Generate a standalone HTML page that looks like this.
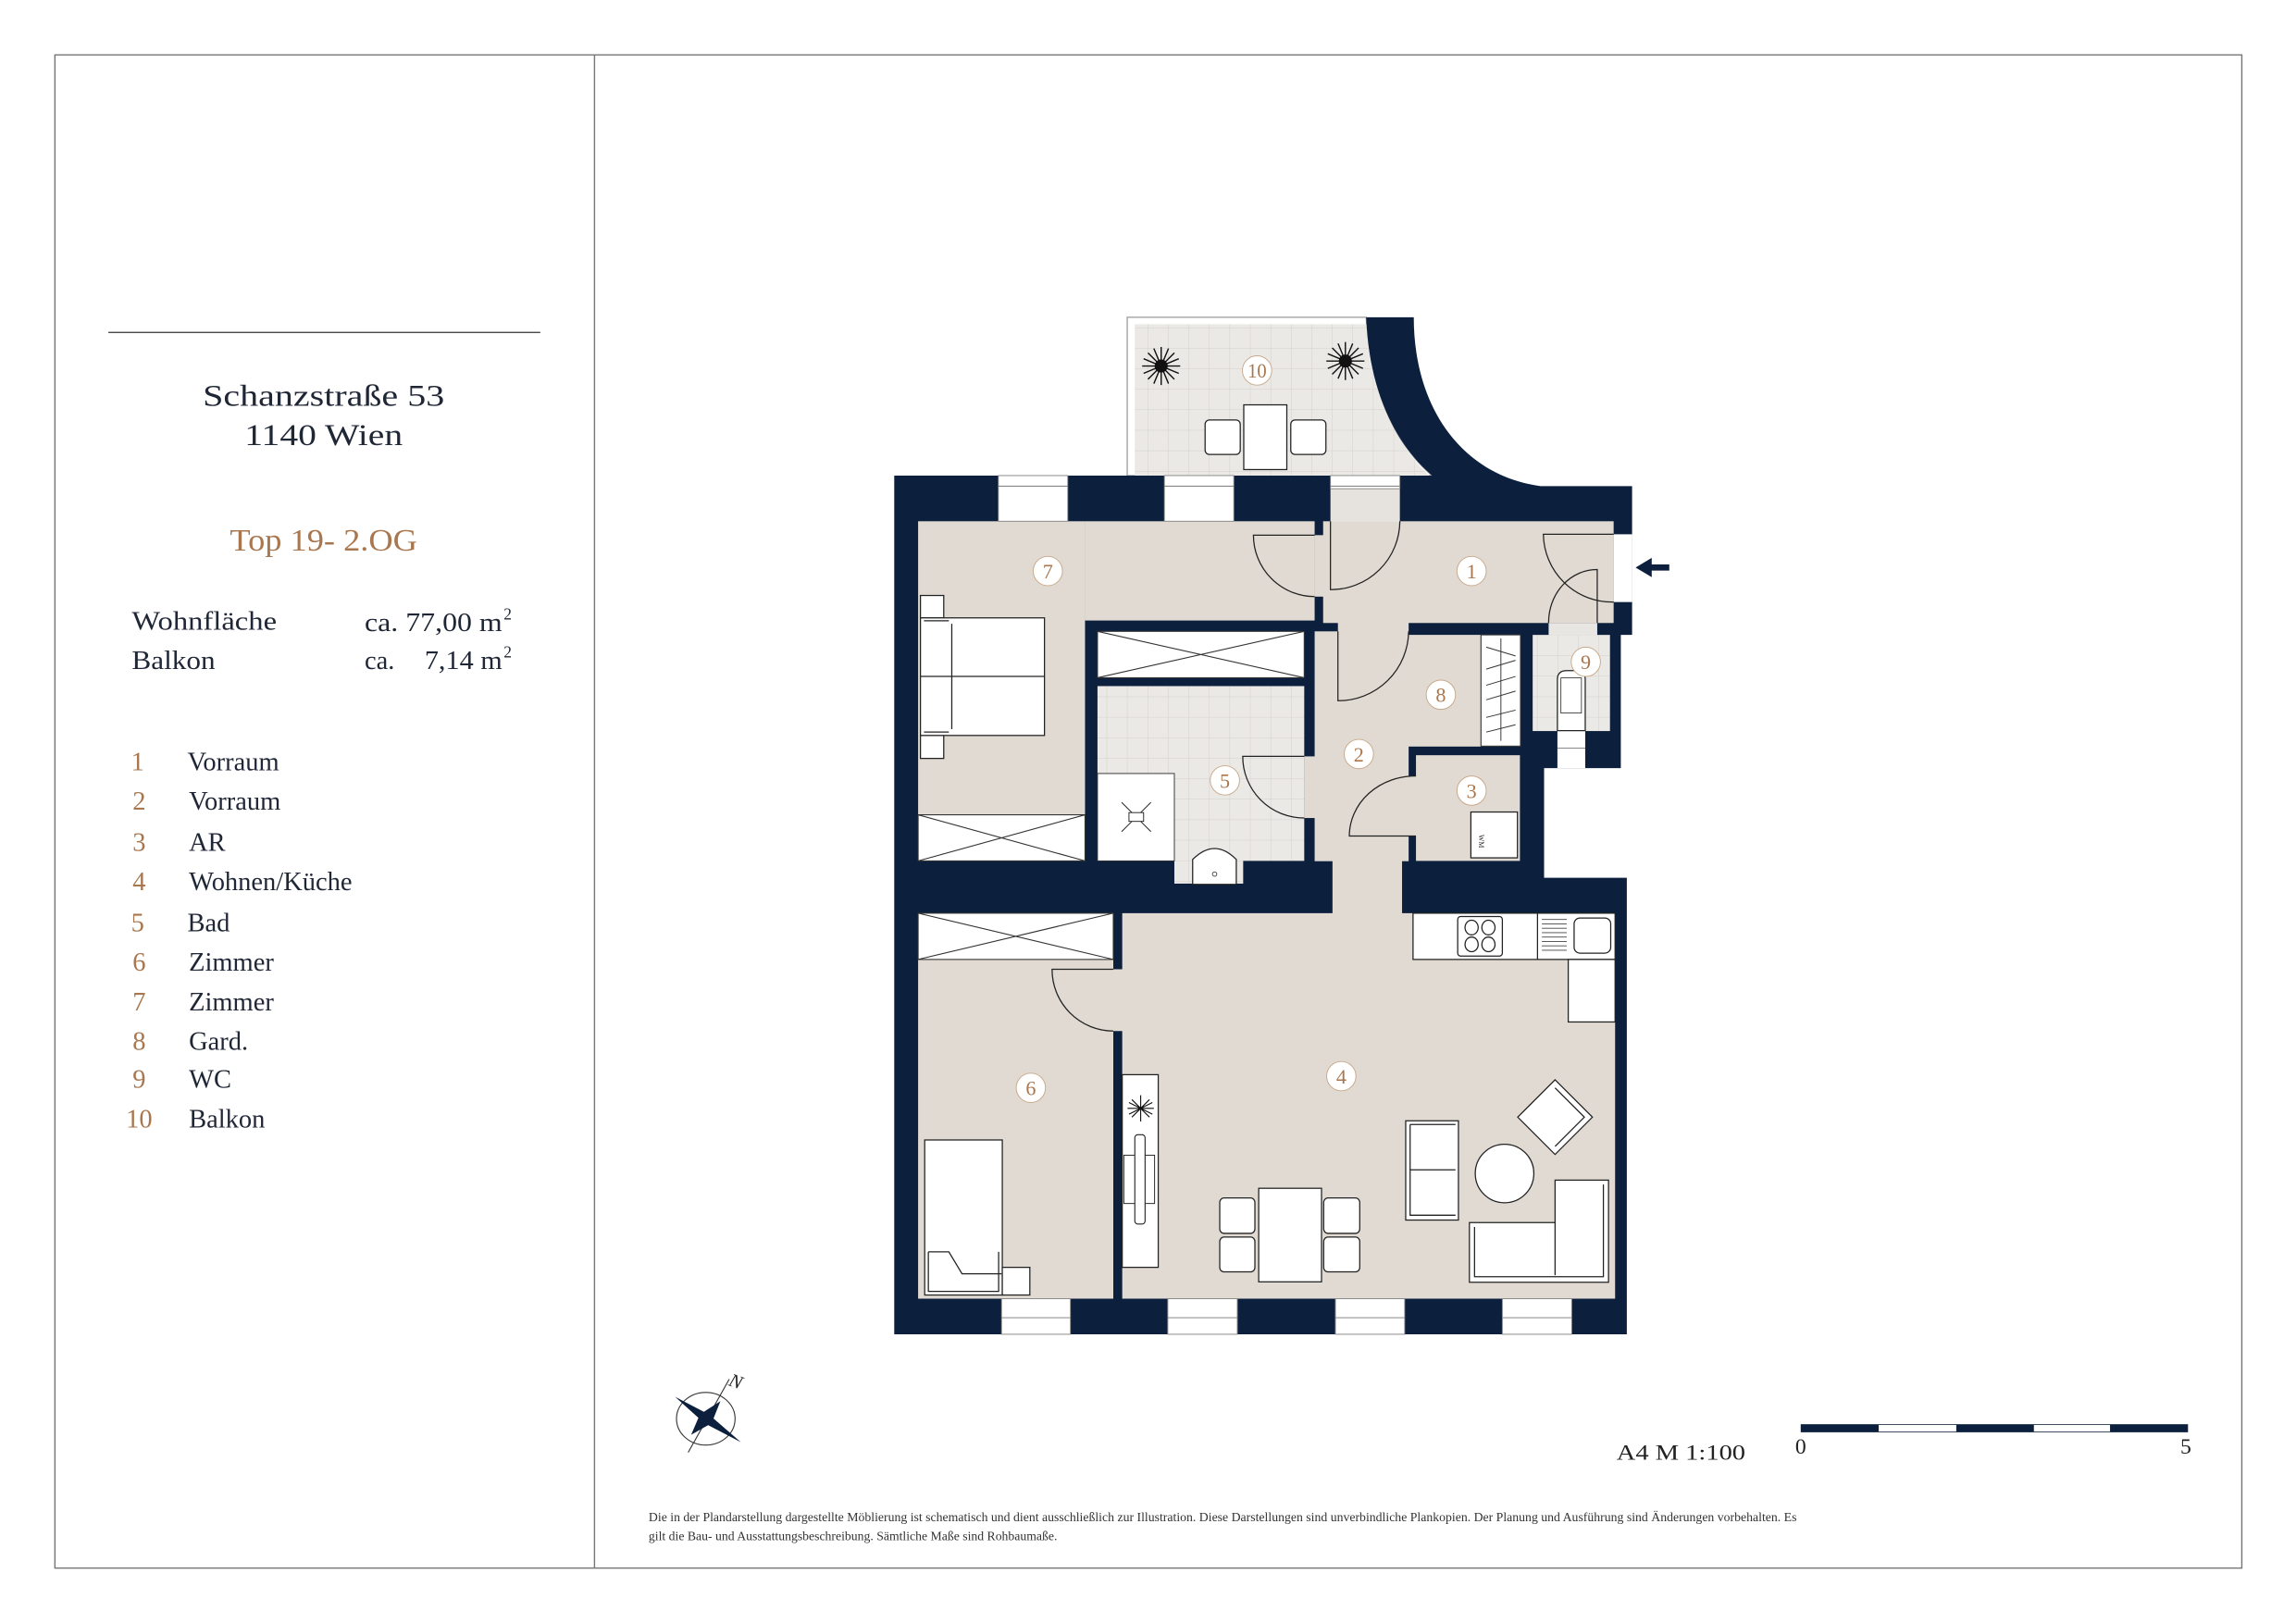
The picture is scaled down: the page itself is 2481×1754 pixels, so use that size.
<!DOCTYPE html>
<html><head><meta charset="utf-8"><style>
html,body{margin:0;padding:0;background:#fff}
svg{display:block}
text{font-family:"Liberation Serif",serif}
</style></head><body>
<svg width="2481" height="1754" viewBox="0 0 1568 1108.5" xmlns="http://www.w3.org/2000/svg">
<defs>
<pattern id="tile" width="14" height="14" patternUnits="userSpaceOnUse">
<rect width="14" height="14" fill="#ebe9e6"/>
<path d="M14 0V14M0 14H14" stroke="#d3d0cc" stroke-width="0.6" fill="none"/>
</pattern>
</defs>
<rect width="1568" height="1108.5" fill="#fff"/>
<rect x="37.5" y="37.5" width="1493.5" height="1033.5" fill="none" stroke="#777" stroke-width="0.9"/>
<line x1="406" y1="37.5" x2="406" y2="1071" stroke="#777" stroke-width="0.9"/>
<line x1="74" y1="227" x2="369" y2="227" stroke="#333" stroke-width="0.8"/>

<g fill="#1f2636" font-size="20.5">
<text x="221" y="277" text-anchor="middle" textLength="165" lengthAdjust="spacingAndGlyphs">Schanzstraße 53</text>
<text x="221" y="304" text-anchor="middle" textLength="108" lengthAdjust="spacingAndGlyphs">1140 Wien</text>
</g>
<text x="221" y="376" text-anchor="middle" font-size="21.5" fill="#a9774f" textLength="128" lengthAdjust="spacingAndGlyphs">Top 19- 2.OG</text>
<g fill="#1f2636" font-size="18">
<text x="90" y="430" textLength="99" lengthAdjust="spacingAndGlyphs">Wohnfläche</text>
<text x="90" y="457" textLength="57" lengthAdjust="spacingAndGlyphs">Balkon</text>
<text x="249" y="431" textLength="94" lengthAdjust="spacingAndGlyphs">ca. 77,00 m</text><text x="344" y="423" font-size="11">2</text>
<text x="249" y="457">ca.</text><text x="290" y="457" textLength="53" lengthAdjust="spacingAndGlyphs">7,14 m</text><text x="344" y="449" font-size="11">2</text>
</g>
<g font-size="18" fill="#a9774f" text-anchor="middle">
<text x="94" y="526">1</text><text x="95" y="553">2</text><text x="95" y="581">3</text><text x="95" y="608">4</text><text x="94" y="636">5</text><text x="95" y="663">6</text><text x="95" y="690">7</text><text x="95" y="717">8</text><text x="95" y="743">9</text><text x="95" y="770">10</text>
</g>
<g font-size="18" fill="#1f2636">
<text x="128" y="526">Vorraum</text><text x="129" y="553">Vorraum</text><text x="129" y="581">AR</text><text x="129" y="608">Wohnen/Küche</text><text x="128" y="636">Bad</text><text x="129" y="663">Zimmer</text><text x="129" y="690">Zimmer</text><text x="129" y="717">Gard.</text><text x="129" y="743">WC</text><text x="129" y="770">Balkon</text>
</g>

<path d="M769.8,216.7H933C935,270 955,305 978,324.8H769.8Z" fill="#fff" stroke="#999" stroke-width="0.8"/>
<path d="M775,221.4H933.5C936,272 956,306 976,324.8H775Z" fill="url(#tile)"/>
<rect x="849.4" y="276.5" width="29.4" height="44.2" fill="#fff" stroke="#222" stroke-width="0.8"/>
<rect x="823" y="286.8" width="24" height="23.6" rx="3" fill="#fff" stroke="#222" stroke-width="0.8"/>
<rect x="881.5" y="286.8" width="24" height="23.6" rx="3" fill="#fff" stroke="#222" stroke-width="0.8"/>
<g stroke="#111" stroke-width="0.9">
<g transform="translate(793,250)"><path d="M-13,0H13M0,-13V13M-9,-9L9,9M-9,9L9,-9M-12,-5L12,5M-12,5L12,-5M-5,-12L5,12M5,-12L-5,12"/><circle r="4" fill="#111"/></g>
<g transform="translate(918.8,246.6)"><path d="M-13,0H13M0,-13V13M-9,-9L9,9M-9,9L9,-9M-12,-5L12,5M-12,5L12,-5M-5,-12L5,12M5,-12L-5,12"/><circle r="4" fill="#111"/></g>
</g>

<path d="M610.7,324.8H978C955,305 935,270 933,216.7H965.5C965.5,280 1000,325 1052,332H1114.6V433.6H1106.9V524.6H1054.5V599.5H1111V911.3H610.7Z" fill="#0c1f3d"/>

<g fill="#e0dad2">
<rect x="627" y="356" width="114" height="232"/>
<rect x="741" y="356" width="156.8" height="67.8"/>
<rect x="897.8" y="365.5" width="6" height="42"/>
<rect x="903.6" y="356" width="198.4" height="69.5"/>
<rect x="897.8" y="431.2" width="64.2" height="157"/>
<rect x="913.7" y="425" width="48.3" height="7"/>
<rect x="890.7" y="516.6" width="7.5" height="42.1"/>
<rect x="910" y="588" width="47.5" height="36"/>
<rect x="961.5" y="433.6" width="77" height="76.3"/>
<rect x="961.5" y="530" width="6" height="41"/>
<rect x="967" y="515.8" width="71" height="72.2"/>
<rect x="627" y="623.7" width="133.3" height="263.3"/>
<rect x="760" y="662" width="7" height="42.2"/>
<rect x="766.4" y="623.7" width="336.6" height="263.3"/>
<rect x="908.6" y="334" width="47.4" height="22.5" fill="#e6e2dd"/>
</g>
<rect x="749.5" y="468.6" width="141.2" height="119.4" fill="url(#tile)"/>
<rect x="802" y="586" width="47" height="17.5" fill="url(#tile)"/>
<rect x="1046.7" y="433.6" width="52.8" height="65.7" fill="url(#tile)"/>
<rect x="1057.6" y="425.5" width="33.2" height="8.5" fill="#e8e6e3"/>
<rect x="1102" y="364.9" width="12.6" height="46.3" fill="#fff"/>
<rect x="1063.6" y="499" width="19" height="25.6" fill="#fff"/>
<line x1="1063.6" y1="511" x2="1082.6" y2="511" stroke="#777" stroke-width="0.6"/>

<g fill="#fff" stroke="#888" stroke-width="0.6">
<rect x="681.8" y="324.8" width="47.4" height="31.2"/><rect x="795.2" y="324.8" width="47.4" height="31.2"/><rect x="908.6" y="324.8" width="47.4" height="9"/>
<rect x="684" y="887" width="47" height="24.3"/><rect x="797.5" y="887" width="47.5" height="24.3"/><rect x="912" y="887" width="47.3" height="24.3"/><rect x="1026" y="887" width="47.4" height="24.3"/>
</g>
<g stroke="#777" stroke-width="0.6">
<path d="M681.8,332H729.2M795.2,332H842.6M908.6,332H956M684,900H731M797.5,900H845M912,900H959.3M1026,900H1073.4"/>
</g>

<g fill="#fff" stroke="#333" stroke-width="0.7">
<rect x="749.5" y="431.2" width="141.2" height="31.7"/><path d="M749.5,431.2L890.7,462.9M749.5,462.9L890.7,431.2"/>
<rect x="627" y="556.5" width="114" height="31.5"/><path d="M627,556.5L741,588M627,588L741,556.5"/>
<rect x="627" y="623.7" width="133.3" height="31.6"/><path d="M627,623.7L760.3,655.3M627,655.3L760.3,623.7"/>
<rect x="1011.4" y="433.6" width="27" height="76"/>
</g>
<g stroke="#333" stroke-width="0.6"><path d="M1025,436V506M1015,442L1035,448M1015,457L1035,451M1015,468L1035,462M1015,478L1035,472M1015,490L1035,485M1015,500L1035,495"/></g>

<rect x="749.5" y="528.3" width="52.5" height="59.7" fill="#fff" stroke="#333" stroke-width="0.6"/>
<path d="M766,548L786,568M786,548L766,568" stroke="#222" stroke-width="0.6"/>
<rect x="771" y="555" width="10" height="6" fill="#fff" stroke="#222" stroke-width="0.6"/>
<path d="M814.5,604V587Q829.5,572 844.3,587V604Z" fill="#fff" stroke="#222" stroke-width="0.8"/>
<circle cx="829.5" cy="597" r="1.5" fill="none" stroke="#222" stroke-width="0.5"/>
<path d="M1063.6,499V464Q1063.6,458 1070,458H1076Q1082.6,458 1082.6,464V499Z" fill="#fff" stroke="#222" stroke-width="0.8"/>
<rect x="1066" y="463" width="14" height="24" fill="none" stroke="#222" stroke-width="0.5"/>
<rect x="1004.5" y="554.6" width="31.8" height="31.3" fill="#fff" stroke="#222" stroke-width="0.8"/>
<text x="1010" y="570" font-size="5" fill="#222" transform="rotate(90 1010 570)">WM</text>

<g fill="#fff" stroke="#222" stroke-width="0.8">
<rect x="628.6" y="406.7" width="15.9" height="15.3"/><rect x="628.6" y="502.3" width="15.9" height="15.7"/>
<rect x="628.6" y="422" width="84.7" height="80.3"/>
<path d="M628.6,462H713.3M650,426V498M631,424H648M631,500H648"/>
</g>
<g fill="#fff" stroke="#222" stroke-width="0.8">
<rect x="965" y="623.7" width="138" height="31.6"/>
<rect x="1071" y="655.3" width="32" height="42.7"/>
<rect x="995.5" y="626" width="30.5" height="27" rx="2"/>
<ellipse cx="1005" cy="633.5" rx="4.5" ry="5"/><ellipse cx="1016.5" cy="633.5" rx="4.5" ry="5"/><ellipse cx="1005" cy="645" rx="4.5" ry="5"/><ellipse cx="1016.5" cy="645" rx="4.5" ry="5"/>
<line x1="1050" y1="623.7" x2="1050" y2="655.3"/>
<rect x="1075" y="627" width="25" height="24" rx="4"/>
</g>
<path d="M1053,628H1070M1053,631H1070M1053,634H1070M1053,637H1070M1053,640H1070M1053,643H1070M1053,646H1070M1053,649H1070" stroke="#444" stroke-width="0.5"/>
<rect x="766.4" y="734" width="24.6" height="131.6" fill="#fff" stroke="#222" stroke-width="0.8"/>
<g transform="translate(779,757)" stroke="#111" stroke-width="0.7"><path d="M-9,0H9M0,-9V9M-6,-6L6,6M-6,6L6,-6M-8,-4L8,4M-8,4L8,-4"/></g>
<rect x="767.5" y="789" width="21" height="33" fill="#fff" stroke="#222" stroke-width="0.6"/>
<rect x="775" y="775" width="7" height="61" rx="2" fill="#fff" stroke="#222" stroke-width="0.7"/>
<g fill="#fff" stroke="#222" stroke-width="0.8">
<rect x="859.6" y="811.6" width="42.9" height="63.9"/>
<rect x="833" y="818.2" width="24" height="24.2" rx="3"/><rect x="833" y="844.9" width="24" height="23.8" rx="3"/>
<rect x="904" y="818.2" width="24.6" height="24.2" rx="3"/><rect x="904" y="844.9" width="24.6" height="23.8" rx="3"/>
<rect x="960" y="765.5" width="36" height="67.8"/>
<path d="M963,768V830H994M963,799H994M963,768H994"/>
<circle cx="1027.5" cy="801.5" r="20"/>
<path d="M1062,737.5L1087.5,763L1062,788.5L1036.5,763Z"/>
<path d="M1062,743L1082,763L1062,783" fill="none"/>
<path d="M1003.5,875.8V835H1062V806H1098.5V875.8Z"/>
<path d="M1007,838V872H1095V809M1062,835V871" fill="none"/>
<rect x="631.5" y="778.6" width="53" height="105.9"/>
<rect x="684.5" y="865.6" width="18.8" height="18.9"/>
<path d="M634,855V882H682V855M634,855H648L657,870H684" fill="none"/>
</g>

<g fill="none" stroke="#222" stroke-width="0.8">
<path d="M897.8,365.5H856A42,42 0 0 0 897.8,407.5"/>
<path d="M908.6,356V402.7A47,47 0 0 0 956,356"/>
<path d="M1102,364.9H1054A47,47 0 0 0 1102,411.2"/>
<path d="M1090.8,425.5V389A33,36 0 0 0 1057.6,425.5"/>
<path d="M913.7,431.2V478.6A48,48 0 0 0 962,431.2"/>
<path d="M890.7,516.6H848.7A42,42 0 0 0 890.7,558.7"/>
<path d="M967,571H921.5A45,41 0 0 1 967,530"/>
<path d="M760.3,662H718.5A42,42 0 0 0 760.3,704.2"/>
</g>
<path d="M1117,387.6L1128,381V385.5H1140V389.7H1128V394.2Z" fill="#0c1f3d"/>

<g font-size="14" fill="#a9774f" text-anchor="middle">
<g fill="#fff" stroke="#c8a88a" stroke-width="0.6">
<circle cx="858.5" cy="253" r="10"/><circle cx="715.6" cy="390" r="10"/><circle cx="1005" cy="390" r="10"/><circle cx="1083" cy="452" r="10"/><circle cx="984" cy="474.5" r="10"/><circle cx="928" cy="515" r="10"/><circle cx="836.5" cy="533" r="10"/><circle cx="1005" cy="540" r="10"/><circle cx="916" cy="735" r="10"/><circle cx="704" cy="743" r="10"/>
</g>
<text x="858.5" y="258" textLength="13" lengthAdjust="spacingAndGlyphs">10</text><text x="715.6" y="395">7</text><text x="1005" y="395">1</text><text x="1083" y="457">9</text><text x="984" y="479.5">8</text><text x="928" y="520">2</text><text x="836.5" y="538">5</text><text x="1005" y="545">3</text><text x="916" y="740">4</text><text x="704" y="748">6</text>
</g>

<ellipse cx="482" cy="969" rx="20" ry="18" fill="none" stroke="#333" stroke-width="0.7"/>
<path d="M470,992L498,942" stroke="#333" stroke-width="0.7"/>
<path d="M461,954L484,966L506,985L481,972Z" fill="#0c1f3d"/>
<path d="M478,966L492,957L486,972L472,980Z" fill="#0c1f3d"/>
<text x="497" y="946" font-size="13" font-style="italic" fill="#222" transform="rotate(20 497 946)">N</text>

<text x="1104" y="997" font-size="15" fill="#222" textLength="88" lengthAdjust="spacingAndGlyphs">A4  M 1:100</text>
<rect x="1230" y="973" width="264" height="5" fill="#fff" stroke="#0c1f3d" stroke-width="0.5"/>
<g fill="#0c1f3d"><rect x="1230" y="973" width="53" height="5"/><rect x="1336" y="973" width="53" height="5"/><rect x="1441" y="973" width="53" height="5"/></g>
<text x="1226" y="993" font-size="15" fill="#222">0</text>
<text x="1489" y="993" font-size="15" fill="#222">5</text>

<g font-size="8.5" fill="#333">
<text x="443" y="1039" textLength="784" lengthAdjust="spacingAndGlyphs">Die in der Plandarstellung dargestellte Möblierung ist schematisch und dient ausschließlich zur Illustration. Diese Darstellungen sind unverbindliche Plankopien. Der Planung und Ausführung sind Änderungen vorbehalten. Es</text>
<text x="443" y="1052" textLength="279" lengthAdjust="spacingAndGlyphs">gilt die Bau- und Ausstattungsbeschreibung. Sämtliche Maße sind Rohbaumaße.</text>
</g>
</svg>
</body></html>
